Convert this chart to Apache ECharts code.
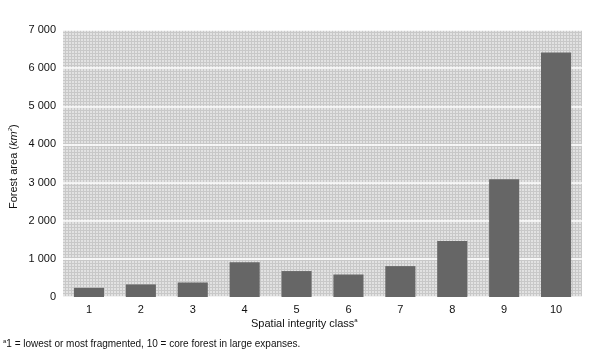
<!DOCTYPE html>
<html><head><meta charset="utf-8">
<script src="https://cdn.jsdelivr.net/npm/echarts@6/dist/echarts.min.js"></script>
<style>html,body{margin:0;padding:0;background:#fff}#c{width:600px;height:357px}</style>
</head><body><div id="c"></div>
<script>
const categories = ['1','2','3','4','5','6','7','8','9','10'];
const forestArea = [240, 330, 380, 910, 680, 590, 810, 1470, 3090, 6410];
const yTicks = [0, 1000, 2000, 3000, 4000, 5000, 6000, 7000];

// light dotted background pattern
const pc = document.createElement('canvas');
pc.width = 3; pc.height = 3;
const px = pc.getContext('2d');
px.fillStyle = '#e2e2e2'; px.fillRect(0,0,3,3);
px.fillStyle = '#c8c8c8'; px.fillRect(0,2,3,1); px.fillRect(2,0,1,3);

const chart = echarts.init(document.getElementById('c'));
const font = 'Liberation Sans, Arial, sans-serif';
chart.setOption({
  animation: false,
  textStyle: { fontFamily: font },
  grid: { left: 63, right: 18, top: 30, bottom: 60, show: true, borderWidth: 0,
          backgroundColor: { image: pc, repeat: 'repeat' } },
  xAxis: {
    type: 'category', data: categories,
    axisLine: { show: false }, axisTick: { show: false },
    axisLabel: { color: '#111', fontSize: 11, margin: 7 }
  },
  yAxis: {
    type: 'value', min: 0, max: 7000, interval: 1000,
    axisLine: { show: false }, axisTick: { show: false },
    splitLine: { lineStyle: { color: '#fff', width: 1.5 } },
    axisLabel: { color: '#111', fontSize: 11, margin: 7,
      formatter: v => yTicks.includes(v) ? String(v).replace(/\B(?=(\d{3})+(?!\d))/g, ' ') : '' }
  },
  series: [{
    type: 'bar', data: forestArea, barWidth: '58%',
    itemStyle: { color: '#666666' }
  }],
  graphic: [
    { type: 'text', left: 251, top: 317,
      style: { text: '{n|Spatial integrity class}{s|a}', rich: {
        n: { fontSize: 11, fill: '#111', fontFamily: font },
        s: { fontSize: 6, fill: '#111', fontFamily: font, padding: [0,0,7,0] } } } },
    { type: 'text', left: 3, top: 338,
      style: { text: '{s|a}{n|1 = lowest or most fragmented, 10 = core forest in large expanses.}', rich: {
        n: { fontSize: 10, fill: '#111', fontFamily: font },
        s: { fontSize: 6, fill: '#111', fontFamily: font, padding: [0,0,6,0] } } } },
    { type: 'text', x: 7, y: 209, rotation: Math.PI / 2,
      style: { text: '{n|Forest area (}{i|km}{s|2}{n|)}', rich: {
        n: { fontSize: 11, fill: '#111', fontFamily: font },
        i: { fontSize: 11, fill: '#111', fontFamily: font, fontStyle: 'italic' },
        s: { fontSize: 6, fill: '#111', fontFamily: font, fontStyle: 'italic', padding: [0,0,7,0] } } } }
  ]
});
</script></body></html>
